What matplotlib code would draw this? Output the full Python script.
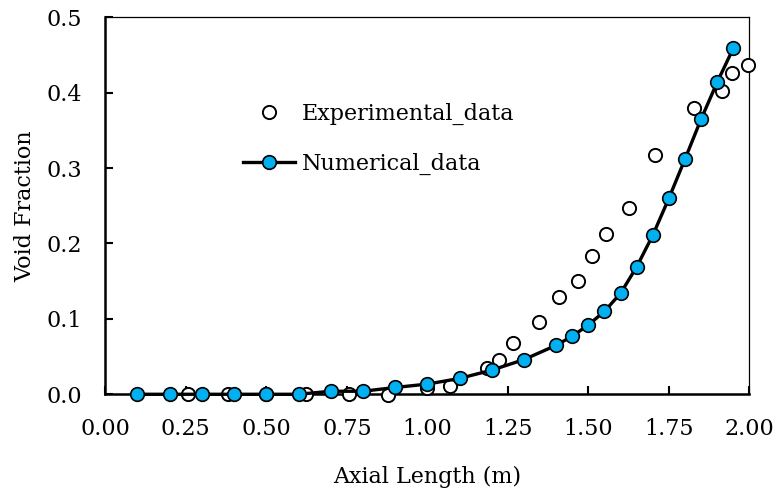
import matplotlib
matplotlib.use("Agg")
import matplotlib.pyplot as plt

# numerical results (blue line)
num_x = [0.1, 0.2, 0.3, 0.4, 0.5, 0.6, 0.7, 0.8, 0.9, 1.0,
         1.1, 1.2, 1.3, 1.4, 1.45, 1.5, 1.55, 1.6, 1.65, 1.7,
         1.75, 1.8, 1.85, 1.9, 1.95]
num_y = [0.0, 0.0, 0.0, 0.0, 0.0, 0.0, 0.004, 0.004, 0.009, 0.0135,
         0.021, 0.032, 0.046, 0.065, 0.077, 0.092, 0.110, 0.134, 0.169, 0.211,
         0.260, 0.312, 0.365, 0.414, 0.459]

# experimental points (open circles)
exp_x = [0.256, 0.381, 0.50, 0.624, 0.756, 0.877, 1.0, 1.071, 1.185, 1.224,
         1.266, 1.346, 1.410, 1.467, 1.511, 1.556, 1.627, 1.706, 1.829, 1.915,
         1.946, 1.995]
exp_y = [0.0, 0.0, 0.0, 0.0, 0.0, -0.001, 0.008, 0.011, 0.0345, 0.0455,
         0.068, 0.0956, 0.129, 0.150, 0.183, 0.213, 0.247, 0.318, 0.380, 0.402,
         0.426, 0.437]

xticks = [0.0, 0.25, 0.5, 0.75, 1.0, 1.25, 1.5, 1.75, 2.0]
yticks = [0.0, 0.1, 0.2, 0.3, 0.4, 0.5]

plt.rcParams['font.family'] = ['DejaVu Serif']
plt.rcParams['font.size'] = 16

fig = plt.figure(figsize=(7.77, 4.95), dpi=100)
ax = fig.add_axes([0.1355, 0.2035, 0.8290, 0.7615])

ax.plot(exp_x, exp_y, 'o', ls='none', ms=9.5, mfc='white', mec='black',
        mew=1.4, label='Experimental_data', zorder=3, clip_on=False)
ax.plot(num_x, num_y, '-o', color='black', lw=2.4, ms=9.8, mfc='#00B0F0',
        mec='black', mew=1.2, label='Numerical_data', zorder=4, clip_on=False)

ax.set_xlim(0, 2.0)
ax.set_ylim(0, 0.5)
ax.set_xticks(xticks)
ax.set_yticks(yticks)
ax.set_xticklabels(['%.2f' % v for v in xticks])
ax.set_yticklabels(['%.1f' % v for v in yticks])
ax.tick_params(direction='in', length=6, width=1.5)
ax.tick_params(axis='x', pad=17)
ax.tick_params(axis='y', pad=17)

for s in ['left', 'bottom']:
    ax.spines[s].set_linewidth(1.8)
for s in ['top', 'right']:
    ax.spines[s].set_linewidth(0.9)

ax.set_xlabel('Axial Length (m)', labelpad=19)
ax.set_ylabel('Void Fraction', labelpad=7)

ax.legend(loc='upper left', bbox_to_anchor=(0.214, 0.773), frameon=False,
          handlelength=2.35, handletextpad=0.3, labelspacing=1.23,
          borderpad=0, borderaxespad=0)

fig.savefig('out.png', dpi=100)
